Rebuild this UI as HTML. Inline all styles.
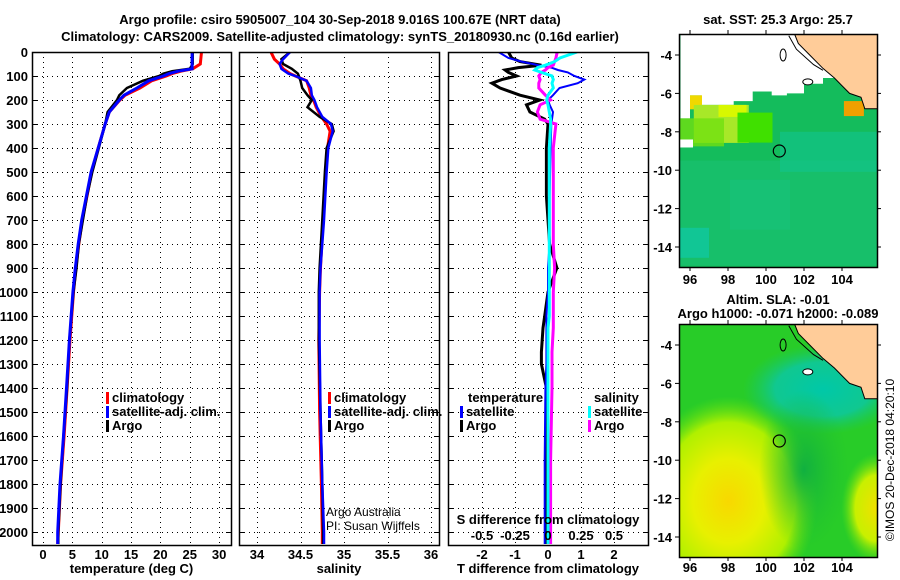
<!DOCTYPE html>
<html><head><meta charset="utf-8"><style>
html,body{margin:0;padding:0;background:#fff;width:900px;height:580px;overflow:hidden;}
svg{display:block;font-family:"Liberation Sans",sans-serif;overflow:hidden;}
.b{font-weight:bold;font-size:13px;}
.n{font-weight:normal;font-size:12px;}
</style></head><body>
<svg id="c" width="900" height="580" viewBox="0 0 900 580">
<defs>
<clipPath id="cp1"><rect x="32" y="52" width="199" height="493"/></clipPath>
<clipPath id="cp2"><rect x="239" y="52" width="200" height="493"/></clipPath>
<clipPath id="cp3"><rect x="448" y="52" width="200" height="493"/></clipPath>
<clipPath id="cm1"><rect x="679" y="34" width="198" height="233"/></clipPath>
<clipPath id="cm2"><rect x="679" y="324" width="198" height="233"/></clipPath>
<radialGradient id="gy" cx="0.25" cy="0.76" r="0.45"><stop offset="0" stop-color="#f8d800"/><stop offset="0.4" stop-color="#e8f000"/><stop offset="0.75" stop-color="#b0f000"/><stop offset="1" stop-color="#60e010" stop-opacity="0"/></radialGradient>
<radialGradient id="gy2" cx="0.5" cy="0.5" r="0.5"><stop offset="0" stop-color="#f0e000"/><stop offset="0.6" stop-color="#c8f000"/><stop offset="1" stop-color="#60e010" stop-opacity="0"/></radialGradient>
<radialGradient id="gt" cx="0.5" cy="0.5" r="0.5"><stop offset="0" stop-color="#00c8a8"/><stop offset="0.6" stop-color="#10c890"/><stop offset="1" stop-color="#18c860" stop-opacity="0"/></radialGradient>
<radialGradient id="gd" cx="0.5" cy="0.5" r="0.5"><stop offset="0" stop-color="#10b040"/><stop offset="1" stop-color="#20c030" stop-opacity="0"/></radialGradient>
</defs>
<g id="root"></g>
</svg>
<script>
// ---- data ----
const tDepth = [0,50,70,80,90,100,120,150,180,200,250,300,400,500,600,700,800,900,1000,1200,1400,1600,1800,2000,2050];
const tClim  = [27.0,26.8,25.5,23.5,22,21,18.5,16.5,14,13.1,11.3,10.6,9.4,8.3,7.5,6.7,6.1,5.6,5.2,4.6,4.1,3.6,3.0,2.6,2.5];
const tSat   = [25.4,25.4,25.4,23,21.5,20.5,18,16,13.8,13.0,11.3,10.6,9.4,8.2,7.4,6.6,6.0,5.5,5.1,4.5,4.0,3.5,2.9,2.5,2.5];
const tArgo  = [25.5,25.5,25.0,22,20.5,19.8,17,14.3,13,12.6,11.0,10.6,9.5,8.4,7.5,6.8,6.1,5.7,5.2,4.5,4.1,3.5,3.0,2.6,2.6];

const sDepth = [0,30,50,70,90,100,120,150,180,200,230,270,300,330,400,500,700,900,1000,1200,1500,1800,2000,2050];
const sClim  = [34.16,34.2,34.26,34.3,34.38,34.44,34.57,34.6,34.62,34.65,34.68,34.74,34.8,34.84,34.81,34.79,34.76,34.73,34.72,34.71,34.72,34.74,34.75,34.75];
const sSat   = [34.38,34.3,34.26,34.28,34.36,34.44,34.57,34.62,34.63,34.66,34.69,34.75,34.85,34.87,34.82,34.8,34.77,34.73,34.72,34.72,34.73,34.75,34.77,34.77];
const sArgo  = [34.38,34.28,34.3,34.4,34.47,34.48,34.5,34.52,34.58,34.63,34.58,34.72,34.86,34.88,34.8,34.78,34.75,34.72,34.71,34.71,34.73,34.75,34.76,34.76];

const dDepth = [0,25,40,55,65,75,85,100,115,130,150,180,200,220,250,280,300,400,600,800,900,1000,1100,1150,1250,1300,1400,1700,2050];
const dTsat  = [-1.5,-1.2,-0.8,-0.3,0.1,0.3,0.6,0.8,1.1,0.9,0.35,0.15,0.0,0.05,0.15,0.12,0.1,0.08,0.05,0.05,0.0,0.0,-0.05,-0.05,-0.05,-0.05,-0.08,-0.1,-0.1];
const dTargo = [-1.2,-1.1,-0.85,-0.2,-0.9,-1.3,-1.2,-0.95,-1.4,-1.7,-1.45,-0.85,-0.25,-0.65,-0.55,-0.1,0.0,-0.05,-0.05,0.05,0.27,0.0,-0.1,-0.15,-0.2,-0.2,-0.05,-0.05,-0.05];
const dSsat  = [0.22,0.09,0.05,-0.02,-0.08,-0.1,-0.05,0.03,0.04,0.03,0.04,0.0,-0.01,0.0,0.01,0.02,0.02,0.01,0.01,0.01,0.01,0.01,0.01,0.0,0.0,0.0,0.0,0.0,0.0];
const dSargo = [0.07,0.06,0.05,0.04,0.0,-0.02,-0.05,-0.07,-0.06,-0.07,-0.07,-0.02,0.02,-0.06,-0.08,-0.06,0.06,0.04,0.04,0.04,0.05,0.04,0.04,0.04,0.03,0.03,0.03,0.02,0.02];

const depthTicks = [0,100,200,300,400,500,600,700,800,900,1000,1100,1200,1300,1400,1500,1600,1700,1800,1900,2000];
const tTicks = [0,5,10,15,20,25,30];
const sTicks = [34,34.5,35,35.5,36];
const sTickLabels = ["34","34.5","35","35.5","36"];
const dTTicks = [-2,-1,0,1,2];
const dSTicks = [-0.5,-0.25,0,0.25,0.5];
const dSTickLabels = ["-0.5","-0.25","0","0.25","0.5"];
const lonTicks = [96,98,100,102,104];
const latTicks = [-4,-6,-8,-10,-12,-14];

// ---- scales ----
const yD = d => 52 + d*0.24;
const xT = t => 43 + t*5.87;
const xS = s => 257 + (s-34)*87;
const xDT = v => 548 + v*33;
const xDS = v => 548 + v*132;
const mx = lon => 690 + (lon-96)*19;
const my1 = lat => 55 + (-4-lat)*19.2;
const my2 = lat => 345 + (-4-lat)*19.2;

const NS='http://www.w3.org/2000/svg';
const root=document.getElementById('root');
function mk(tag,attrs,parent,text){const e=document.createElementNS(NS,tag);for(const k in attrs)e.setAttribute(k,attrs[k]);if(text!==undefined)e.textContent=text;(parent||root).appendChild(e);return e;}
function txt(x,y,s,anchor,cls,parent){return mk('text',{x:x,y:y,'text-anchor':anchor||'start',class:cls||'b'},parent,s);}

let e;
e=txt(340,24,'Argo profile: csiro 5905007_104 30-Sep-2018 9.016S 100.67E (NRT data)','middle');


e=txt(340,41,'Climatology: CARS2009. Satellite-adjusted climatology: synTS_20180930.nc (0.16d earlier)','middle');



function panel(name,x0,x1,xticks,xf,xlabels,xtitle){
  const g=mk('g',{});
  
  
  const grid=mk('g',{stroke:'#000','stroke-width':1,'stroke-dasharray':'1,4'},g);
  depthTicks.forEach(d=>{mk('line',{x1:x0,x2:x1,y1:yD(d)+.5,y2:yD(d)+.5},grid);
    mk('line',{x1:x0,x2:x0+5,y1:yD(d)+.5,y2:yD(d)+.5,'stroke-dasharray':'none'},grid);
    mk('line',{x1:x1-5,x2:x1,y1:yD(d)+.5,y2:yD(d)+.5,'stroke-dasharray':'none'},grid);});
  xticks.forEach(t=>{mk('line',{x1:Math.round(xf(t))+.5,x2:Math.round(xf(t))+.5,y1:52,y2:545},grid);});
  xticks.forEach((t,i)=>{txt(xf(t),559,xlabels[i],'middle','b',g);});
  txt((x0+x1)/2,573,xtitle,'middle','b',g);
  return g;
}
const p1=panel('temperature-panel',32,231,tTicks,xT,tTicks.map(String),'temperature (deg C)');
const p2=panel('salinity-panel',239,439,sTicks,xS,sTickLabels,'salinity');
const p3=panel('difference-panel',448,648,dTTicks,xDT,dTTicks.map(String),'T difference from climatology');
const dl=mk('g',{});


depthTicks.forEach(d=>txt(28,yD(d)+5,String(d),'end','b',dl));

function series(parent,clip,ys,xs,xf,color,w,name){
  const pts=ys.map((d,i)=>xf(xs[i]).toFixed(1)+','+yD(d).toFixed(1)).join(' ');
  const pl=mk('polyline',{points:pts,fill:'none',stroke:color,'stroke-width':w,'clip-path':'url(#'+clip+')'},parent);
  
  
}
series(p1,'cp1',tDepth,tClim,xT,'#f00',3,'temperature-climatology-line');
series(p1,'cp1',tDepth,tArgo,xT,'#000',2.5,'temperature-argo-line');
series(p1,'cp1',tDepth,tSat,xT,'#00f',3,'temperature-satellite-line');
series(p2,'cp2',sDepth,sClim,xS,'#f00',3,'salinity-climatology-line');
series(p2,'cp2',sDepth,sArgo,xS,'#000',2.5,'salinity-argo-line');
series(p2,'cp2',sDepth,sSat,xS,'#00f',2.5,'salinity-satellite-line');
series(p3,'cp3',dDepth,dTargo,xDT,'#000',3,'t-diff-argo-line');
series(p3,'cp3',dDepth,dTsat,xDT,'#00f',2,'t-diff-satellite-line');
series(p3,'cp3',dDepth,dSargo,xDS,'#f0f',3,'s-diff-argo-line');
series(p3,'cp3',dDepth,dSsat,xDS,'#0ff',3,'s-diff-satellite-line');

[[32,52,199,493],[239,52,200,493],[448,52,200,493]].forEach(r=>mk('rect',{x:r[0]+.5,y:r[1]+.5,width:r[2],height:r[3],fill:'none',stroke:'#000','stroke-width':1.5}));

function legend(parent,x,y,items,name){
  const g=mk('g',{},parent);
  
  
  items.forEach((it,i)=>{mk('rect',{x:x,y:y+i*14-10,width:3,height:12,fill:it[1]},g);txt(x+6,y+i*14,it[0],'start','b',g);});
}
legend(p1,106,402,[['climatology','#f00'],['satellite-adj. clim.','#00f'],['Argo','#000']],'temperature-legend');
legend(p2,328,402,[['climatology','#f00'],['satellite-adj. clim.','#00f'],['Argo','#000']],'salinity-legend');
txt(468,402,'temperature','start','b',p3);
txt(594,402,'salinity','start','b',p3);
legend(p3,460,416,[['satellite','#00f'],['Argo','#000']],'t-diff-legend');
legend(p3,588,416,[['satellite','#0ff'],['Argo','#f0f']],'s-diff-legend');
txt(548,524,'S difference from climatology','middle','b',p3);
dSTicks.forEach((v,i)=>txt(xDS(v),540,dSTickLabels[i],'middle','b',p3));
txt(326,516,'Argo Australia','start','n',p2);
txt(326,530,'PI: Susan Wijffels','start','n',p2);

// ---- maps ----
function mapAxes(g,my,y0,labY){
  mk('rect',{x:679.5,y:y0+.5,width:198,height:233,fill:'none',stroke:'#000','stroke-width':1.5},g);
  lonTicks.forEach(l=>{mk('line',{x1:mx(l),x2:mx(l),y1:y0-4,y2:y0,stroke:'#000'},g);mk('line',{x1:mx(l),x2:mx(l),y1:y0+233,y2:y0+237,stroke:'#000'},g);txt(mx(l),labY,String(l),'middle','b',g);});
  latTicks.forEach(l=>{mk('line',{x1:675,x2:679,y1:my(l),y2:my(l),stroke:'#000'},g);mk('line',{x1:877,x2:881,y1:my(l),y2:my(l),stroke:'#000'},g);txt(672,my(l)+5,String(l),'end','b',g);});
  mk('circle',{cx:mx(100.7),cy:my(-9.0),r:6,fill:'none',stroke:'#000','stroke-width':1.2},g);
}
function land(g,my,clip){
  const pts=[[101.5,-2.9],[101.7,-3.4],[102.3,-4.0],[103.0,-4.7],[103.6,-5.2],[104.0,-5.6],[104.4,-6.0],[105.0,-6.2],[105.2,-6.8],[105.5,-6.8],[106,-6.8],[106,-2.9]];
  mk('polygon',{points:pts.map(p=>mx(p[0])+','+my(p[1])).join(' '),fill:'#ffcc99',stroke:'#000','stroke-width':1,'clip-path':'url(#'+clip+')'},g);
  mk('polyline',{points:[[101.2,-3],[101.6,-3.7],[102.5,-4.5],[103,-4.8]].map(p=>mx(p[0])+','+my(p[1])).join(' '),fill:'none',stroke:'#000','stroke-width':1,'clip-path':'url(#'+clip+')'},g);
  mk('ellipse',{cx:mx(102.2),cy:my(-5.4),rx:5,ry:3,fill:'#fff',stroke:'#000'},g);
  mk('ellipse',{cx:mx(100.9),cy:my(-4.0),rx:3,ry:6,fill:'none',stroke:'#000'},g);
}
const m1=mk('g',{});


const m1c=mk('g',{'clip-path':'url(#cm1)'},m1);
mk('rect',{x:679,y:34,width:198,height:233,fill:'#14bc5c'},m1c);
mk('rect',{x:679,y:my1(-9.5),width:198,height:105,fill:'#18c070',opacity:0.7},m1c);
mk('rect',{x:679,y:my1(-13),width:30,height:30,fill:'#10c8a0',opacity:0.8},m1c);
mk('rect',{x:780,y:my1(-8),width:97,height:40,fill:'#10c490',opacity:0.6},m1c);
mk('rect',{x:730,y:my1(-10.5),width:60,height:50,fill:'#18c480',opacity:0.5},m1c);
const white=[[95.5,-2.9],[95.5,-7.3],[96,-7.3],[96,-6.1],[96.6,-6.1],[96.6,-6.6],[98.3,-6.6],[98.3,-6.4],[99.3,-6.4],[99.3,-5.9],[100.3,-5.9],[100.3,-6.1],[101.1,-6.1],[101.1,-6.0],[102.0,-6.0],[102.0,-5.5],[103.0,-5.5],[103.0,-5.2],[103.6,-5.2],[103.6,-2.9]];
mk('polygon',{points:white.map(p=>mx(p[0])+','+my1(p[1])).join(' '),fill:'#fff'},m1c);
mk('rect',{x:mx(96.0),y:my1(-6.1),width:12,height:14,fill:'#f0d800'},m1c);
mk('rect',{x:mx(96.2),y:my1(-6.6),width:55,height:38,fill:'#a8e828'},m1c);
mk('rect',{x:mx(97.5),y:my1(-6.6),width:28,height:12,fill:'#d8f800'},m1c);
mk('rect',{x:mx(98.5),y:my1(-7),width:35,height:30,fill:'#40e000'},m1c);
mk('rect',{x:679,y:my1(-7.3),width:45,height:28,fill:'#70e010',opacity:0.8},m1c);
mk('rect',{x:679,y:my1(-8.4),width:14,height:8,fill:'#fff'},m1c);
mk('rect',{x:mx(104.1),y:my1(-6.4),width:20,height:15,fill:'#f0a000'},m1c);
mk('rect',{x:mx(105.2),y:my1(-6.0),width:12,height:14,fill:'#e07800'},m1c);
land(m1c,my1,'cm1');
mapAxes(m1,my1,34,284);
txt(778,24,'sat. SST: 25.3 Argo: 25.7','middle','b',m1);
const m2=mk('g',{});


const m2c=mk('g',{'clip-path':'url(#cm2)'},m2);
mk('rect',{x:679,y:324,width:198,height:233,fill:'#28cc28'},m2c);
mk('rect',{x:679,y:324,width:198,height:233,fill:'url(#gy)'},m2c);
mk('ellipse',{cx:mx(105.8),cy:my2(-12.5),rx:35,ry:55,fill:'url(#gy2)'},m2c);
mk('ellipse',{cx:mx(103),cy:my2(-6.3),rx:80,ry:45,fill:'url(#gt)'},m2c);
mk('ellipse',{cx:mx(102),cy:my2(-10.5),rx:45,ry:80,fill:'url(#gd)'},m2c);
land(m2c,my2,'cm2');
mapAxes(m2,my2,324,572);
txt(778,304,'Altim. SLA: -0.01','middle','b',m2);
txt(778,318,'Argo h1000: -0.071 h2000: -0.089','middle','b',m2);
const cr=txt(0,0,'\u00A9IMOS 20-Dec-2018 04:20:10','middle','n');
cr.setAttribute('transform','translate(894,460) rotate(-90)');


</script>
</body></html>
